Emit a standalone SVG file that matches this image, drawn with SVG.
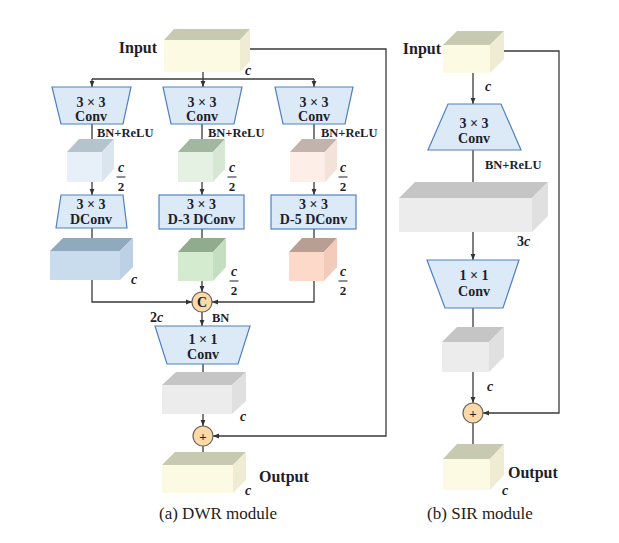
<svg xmlns="http://www.w3.org/2000/svg" width="619" height="543" viewBox="0 0 619 543">
<defs>
<marker id="ah" viewBox="0 0 10 10" refX="10" refY="5" markerUnits="userSpaceOnUse" markerWidth="6" markerHeight="6" orient="auto">
<path d="M0,1 L10,5 L0,9 z" fill="#333"/>
</marker>
<style>
.ln{fill:none;stroke:#3a3a3a;stroke-width:1.3}
.ar{fill:none;stroke:#3a3a3a;stroke-width:1.3;marker-end:url(#ah)}
.op{fill:#dceaf8;stroke:#4f80c2;stroke-width:1.2}
.t{font-family:"Liberation Serif","Times New Roman",serif;font-weight:bold;fill:#1e1e2e}
.op-t{font-size:14px;text-anchor:middle}
.lab{font-size:16px}
.sm{font-size:12.5px}
.ci{font-size:14px;font-style:italic}
.cap{font-family:"Liberation Serif","Times New Roman",serif;font-size:17px;fill:#222;text-anchor:middle}
.circ{fill:#fbd9a9;stroke:#6e665a;stroke-width:1.2}
.yf{fill:#fdfae3}.yt{fill:#c7c9b0}.yr{fill:#efecd3}
.bf{fill:#e7eff8}.bt{fill:#b5c3cd}.br{fill:#dbe5ef}
.gf{fill:#e5f1e3}.gt{fill:#a2b7a0}.gr{fill:#d8e7d5}
.pf{fill:#fdefe7}.pt{fill:#c2b4ad}.pr{fill:#f2e2da}
.Bf{fill:#c9dcee}.Bt{fill:#91a9bc}.Br{fill:#bcd1e5}
.Gf{fill:#d4ebd0}.Gt{fill:#90ac8d}.Gr{fill:#c4dfc0}
.Pf{fill:#fdd9c9}.Pt{fill:#b89e93}.Pr{fill:#f2cbba}
.kf{fill:#ececec}.kt{fill:#c5c5c5}.kr{fill:#e0e0e0}
</style>
</defs>
<rect width="619" height="543" fill="#fff"/>

<g id="connectors">
<!-- DWR -->
<polyline class="ln" points="203,72 203,79"/>
<polyline class="ln" points="92,79 314,79"/>
<polyline class="ar" points="92,79 92,87"/>
<polyline class="ar" points="203,79 203,87"/>
<polyline class="ar" points="314,79 314,87"/>
<polyline class="ar" points="92,124 92,146"/>
<polyline class="ar" points="202,124 202,146"/>
<polyline class="ar" points="314,124 314,146"/>
<polyline class="ar" points="92,182 92,195"/>
<polyline class="ar" points="202,182 202,195"/>
<polyline class="ar" points="314,182 314,195"/>
<polyline class="ar" points="92,228 92,245"/>
<polyline class="ar" points="202,229 202,245"/>
<polyline class="ar" points="314,229 314,245"/>
<polyline class="ar" points="92,280 92,302 192,302"/>
<polyline class="ar" points="202,281 202,292"/>
<polyline class="ar" points="314,281 314,302 212,302"/>
<polyline class="ar" points="202,312 202,326"/>
<polyline class="ar" points="203,364 203,378"/>
<polyline class="ar" points="203,414 203,426"/>
<polyline class="ar" points="203,446 203,458"/>
<polyline class="ar" points="249,49 386,49 386,436 213,436"/>
<!-- SIR -->
<polyline class="ar" points="473,73 473,104"/>
<polyline class="ar" points="473,150 473,190"/>
<polyline class="ar" points="473,232 473,260"/>
<polyline class="ar" points="473,308 473,335"/>
<polyline class="ar" points="473,372 473,403"/>
<polyline class="ar" points="473,423 473,451"/>
<polyline class="ar" points="504,51 559,51 559,413 483,413"/>
</g>

<!-- ===== DWR module ===== -->
<g id="dwr-input">
<rect class="yf" x="164" y="40" width="76" height="32"/>
<polygon class="yt" points="164,40 174,29 250,29 240,40"/>
<polygon class="yr" points="240,40 250,29 250,61 240,72"/>
<text class="t lab" x="157" y="53" text-anchor="end">Input</text>
<text class="t ci" x="245" y="75">c</text>
</g>

<g id="dwr-conv1">
<polygon class="op" points="52,87 131,87 123,124 61,124"/>
<text class="t op-t" x="91" y="107">3 × 3</text>
<text class="t op-t" x="91" y="121">Conv</text>
<text class="t sm" x="97" y="137">BN+ReLU</text>
</g>
<g id="dwr-conv2">
<polygon class="op" points="163,87 242,87 234,124 171,124"/>
<text class="t op-t" x="202" y="107">3 × 3</text>
<text class="t op-t" x="202" y="121">Conv</text>
<text class="t sm" x="208" y="137">BN+ReLU</text>
</g>
<g id="dwr-conv3">
<polygon class="op" points="275,87 353,87 345,124 283,124"/>
<text class="t op-t" x="314" y="107">3 × 3</text>
<text class="t op-t" x="314" y="121">Conv</text>
<text class="t sm" x="321" y="137">BN+ReLU</text>
</g>

<g id="dwr-feat1">
<rect class="bf" x="67" y="152" width="35" height="30"/>
<polygon class="bt" points="67,152 79,139 114,139 102,152"/>
<polygon class="br" points="102,152 114,139 114,169 102,182"/>
<text class="t ci" x="121" y="172" text-anchor="middle">c</text>
<line x1="116.5" y1="177" x2="125.5" y2="177" stroke="#1e1e2e" stroke-width="1"/>
<text class="t" font-size="13" x="121" y="191" text-anchor="middle">2</text>
</g>
<g id="dwr-feat2">
<rect class="gf" x="178" y="152" width="35" height="30"/>
<polygon class="gt" points="178,152 190,139 225,139 213,152"/>
<polygon class="gr" points="213,152 225,139 225,169 213,182"/>
<text class="t ci" x="232" y="172" text-anchor="middle">c</text>
<line x1="227.5" y1="177" x2="236.5" y2="177" stroke="#1e1e2e" stroke-width="1"/>
<text class="t" font-size="13" x="232" y="191" text-anchor="middle">2</text>
</g>
<g id="dwr-feat3">
<rect class="pf" x="290" y="152" width="35" height="30"/>
<polygon class="pt" points="290,152 302,139 337,139 325,152"/>
<polygon class="pr" points="325,152 337,139 337,169 325,182"/>
<text class="t ci" x="343" y="172" text-anchor="middle">c</text>
<line x1="338.5" y1="177" x2="347.5" y2="177" stroke="#1e1e2e" stroke-width="1"/>
<text class="t" font-size="13" x="343" y="191" text-anchor="middle">2</text>
</g>

<g id="dwr-dconv1">
<polygon class="op" points="61,195 123,195 127,228 56,228"/>
<text class="t op-t" x="91" y="209">3 × 3</text>
<text class="t op-t" x="91" y="224">DConv</text>
</g>
<g id="dwr-dconv2">
<rect class="op" x="159" y="195" width="85" height="34"/>
<text class="t op-t" x="201.5" y="209">3 × 3</text>
<text class="t op-t" x="201.5" y="224">D-3 DConv</text>
</g>
<g id="dwr-dconv3">
<rect class="op" x="271" y="195" width="85" height="34"/>
<text class="t op-t" x="313.5" y="209">3 × 3</text>
<text class="t op-t" x="313.5" y="224">D-5 DConv</text>
</g>

<g id="dwr-out1">
<rect class="Bf" x="50" y="251" width="70" height="29"/>
<polygon class="Bt" points="50,251 63,238 133,238 120,251"/>
<polygon class="Br" points="120,251 133,238 133,267 120,280"/>
<text class="t ci" x="134" y="284" text-anchor="middle">c</text>
</g>
<g id="dwr-out2">
<rect class="Gf" x="178" y="252" width="35" height="29"/>
<polygon class="Gt" points="178,252 191,238 226,238 213,252"/>
<polygon class="Gr" points="213,252 226,238 226,267 213,281"/>
<text class="t ci" x="234" y="276" text-anchor="middle">c</text>
<line x1="229.5" y1="281" x2="238.5" y2="281" stroke="#1e1e2e" stroke-width="1"/>
<text class="t" font-size="13" x="234" y="295" text-anchor="middle">2</text>
</g>
<g id="dwr-out3">
<rect class="Pf" x="289" y="252" width="35" height="29"/>
<polygon class="Pt" points="289,252 302,238 337,238 324,252"/>
<polygon class="Pr" points="324,252 337,238 337,267 324,281"/>
<text class="t ci" x="343" y="276" text-anchor="middle">c</text>
<line x1="338.5" y1="281" x2="347.5" y2="281" stroke="#1e1e2e" stroke-width="1"/>
<text class="t" font-size="13" x="343" y="295" text-anchor="middle">2</text>
</g>

<g id="dwr-concat">
<circle class="circ" cx="202" cy="302" r="10"/>
<text class="t" font-size="14" x="202" y="307" text-anchor="middle">C</text>
<text class="t" font-size="14" x="150" y="322">2<tspan font-style="italic">c</tspan></text>
<text class="t sm" x="212" y="322">BN</text>
</g>

<g id="dwr-conv1x1">
<polygon class="op" points="155,326 250,326 238,364 167,364"/>
<text class="t op-t" x="203" y="344">1 × 1</text>
<text class="t op-t" x="203" y="359">Conv</text>
</g>

<g id="dwr-feat-out">
<rect class="kf" x="162" y="385" width="70" height="29"/>
<polygon class="kt" points="162,385 176,372 246,372 232,385"/>
<polygon class="kr" points="232,385 246,372 246,401 232,414"/>
<text class="t ci" x="243" y="421" text-anchor="middle">c</text>
</g>

<g id="dwr-add">
<circle class="circ" cx="203" cy="436" r="10"/>
<text class="t" font-size="13" x="203" y="441" text-anchor="middle" font-weight="normal">+</text>
</g>

<g id="dwr-output">
<rect class="yf" x="162" y="465" width="71" height="28"/>
<polygon class="yt" points="162,465 175,452 246,452 233,465"/>
<polygon class="yr" points="233,465 246,452 246,480 233,493"/>
<text class="t lab" x="259" y="482">Output</text>
<text class="t ci" x="248" y="495" text-anchor="middle">c</text>
</g>
<text class="cap" x="218" y="519">(a) DWR module</text>

<!-- ===== SIR module ===== -->
<g id="sir-input">
<rect class="yf" x="443" y="45" width="47" height="28"/>
<polygon class="yt" points="443,45 457,31 504,31 490,45"/>
<polygon class="yr" points="490,45 504,31 504,59 490,73"/>
<text class="t lab" x="441" y="54" text-anchor="end">Input</text>
<text class="t ci" x="488" y="91" text-anchor="middle">c</text>
</g>

<g id="sir-conv3x3">
<polygon class="op" points="448,104 501,104 521,150 428,150"/>
<text class="t op-t" x="474" y="128">3 × 3</text>
<text class="t op-t" x="474" y="143">Conv</text>
<text class="t sm" x="485" y="169">BN+ReLU</text>
</g>

<g id="sir-feat3c">
<rect class="kf" x="399" y="198" width="133" height="34"/>
<polygon class="kt" points="399,198 415,182 548,182 532,198"/>
<polygon class="kr" points="532,198 548,182 548,216 532,232"/>
<text class="t" font-size="14" x="517" y="246">3<tspan font-style="italic">c</tspan></text>
</g>

<g id="sir-conv1x1">
<polygon class="op" points="427,260 519,260 503,308 445,308"/>
<text class="t op-t" x="474" y="280">1 × 1</text>
<text class="t op-t" x="474" y="296">Conv</text>
</g>

<g id="sir-feat-out">
<rect class="kf" x="442" y="342" width="47" height="30"/>
<polygon class="kt" points="442,342 457,327 504,327 489,342"/>
<polygon class="kr" points="489,342 504,327 504,357 489,372"/>
<text class="t ci" x="490" y="391" text-anchor="middle">c</text>
</g>

<g id="sir-add">
<circle class="circ" cx="473" cy="413" r="10"/>
<text class="t" font-size="13" x="473" y="418" text-anchor="middle" font-weight="normal">+</text>
</g>

<g id="sir-output">
<rect class="yf" x="443" y="459" width="47" height="31"/>
<polygon class="yt" points="443,459 457,444 504,444 490,459"/>
<polygon class="yr" points="490,459 504,444 504,475 490,490"/>
<text class="t lab" x="508" y="478">Output</text>
<text class="t ci" x="505" y="495" text-anchor="middle">c</text>
</g>
<text class="cap" x="480" y="519">(b) SIR module</text>
</svg>
